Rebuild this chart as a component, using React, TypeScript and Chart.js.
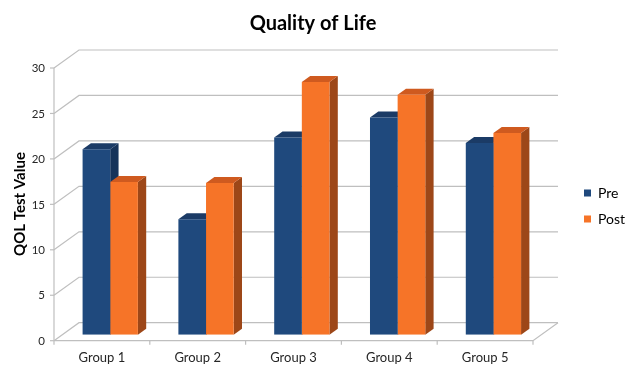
import React, { useEffect, useRef } from "react";
import { Chart, registerables } from "chart.js";

Chart.register(...registerables);

const categories = ["Group 1", "Group 2", "Group 3", "Group 4", "Group 5"];
const preValues = [20.4, 12.7, 21.7, 23.9, 21.1];
const postValues = [16.8, 16.7, 27.8, 26.4, 22.2];
const seriesNames = ["Pre", "Post"];
const yTicks = [0, 5, 10, 15, 20, 25, 30];
const chartTitle = "Quality of Life";
const yAxisTitle = "QOL Test Value";

const FONT = "Lato, 'Open Sans', sans-serif";
// bar depth offset (one third of the full floor depth)
const BDX = 8.33;
const BDY = -6;

const faceColors = [
  { front: "#1F497D", top: "#1B3B66", side: "#16335A" },
  { front: "#F67428", top: "#CF5A1F", side: "#9D4718" },
];

const threeD = {
  id: "threeD",
  beforeDatasetsDraw(chart: any) {
    const ctx = chart.ctx as CanvasRenderingContext2D;
    const ya = chart.scales.y;
    const xa = chart.scales.x;
    const ca = chart.chartArea;
    const fl = ca.left - BDX;
    const fr = ca.right - BDX;
    const bl = ca.left + 2 * BDX;
    const br = ca.right + 2 * BDX;
    const fy = (v: number) => ya.getPixelForValue(v) - BDY;
    const by = (v: number) => ya.getPixelForValue(v) + 2 * BDY;
    ctx.save();
    ctx.strokeStyle = "#BFBFBF";
    ctx.lineWidth = 1.2;
    // back wall gridlines + left wall diagonals
    yTicks.forEach((v) => {
      ctx.beginPath();
      ctx.moveTo(fl, fy(v));
      ctx.lineTo(bl, by(v));
      ctx.lineTo(br, by(v));
      ctx.stroke();
    });
    // floor
    ctx.beginPath();
    ctx.moveTo(fl, fy(0));
    ctx.lineTo(fr, fy(0));
    ctx.lineTo(br, by(0));
    ctx.stroke();
    // y axis line
    ctx.beginPath();
    ctx.moveTo(fl, fy(30));
    ctx.lineTo(fl, fy(0));
    ctx.stroke();
    // y ticks
    ctx.fillStyle = "#262626";
    ctx.font = `11.5px ${FONT}`;
    ctx.textAlign = "right";
    ctx.textBaseline = "middle";
    yTicks.forEach((v) => {
      ctx.beginPath();
      ctx.moveTo(fl - 4, fy(v));
      ctx.lineTo(fl, fy(v));
      ctx.stroke();
      ctx.fillText(String(v), fl - 9, fy(v) + 0.5);
    });
    // x ticks + labels
    const n = categories.length;
    const cw = (fr - fl) / n;
    for (let i = 0; i <= n; i++) {
      const x = fl + i * cw;
      ctx.beginPath();
      ctx.moveTo(x, fy(0));
      ctx.lineTo(x, fy(0) + 4);
      ctx.stroke();
    }
    ctx.font = `13px ${FONT}`;
    ctx.textAlign = "center";
    categories.forEach((c, i) => {
      ctx.fillText(c, xa.getPixelForValue(i) - BDX, fy(0) + 17);
    });
    // titles
    ctx.fillStyle = "#000000";
    ctx.font = `bold 20px ${FONT}`;
    ctx.fillText(chartTitle, 313, 24);
    ctx.save();
    ctx.translate(20, 204);
    ctx.rotate(-Math.PI / 2);
    ctx.font = `bold 15px ${FONT}`;
    ctx.fillText(yAxisTitle, 0, 0);
    ctx.restore();
    // legend
    ctx.font = `14px ${FONT}`;
    ctx.textAlign = "left";
    seriesNames.forEach((s, i) => {
      const yy = 193 + i * 26;
      ctx.fillStyle = faceColors[i].front;
      ctx.fillRect(584, yy - 3.5, 7, 7);
      ctx.fillStyle = "#000000";
      ctx.fillText(s, 598, yy + 0.5);
    });
    // bar top + side faces
    const metas = [chart.getDatasetMeta(0), chart.getDatasetMeta(1)];
    for (let i = 0; i < n; i++) {
      metas.forEach((m: any, d: number) => {
        const el = m.data[i];
        const l = el.x - el.width / 2;
        const r = el.x + el.width / 2;
        const t = el.y;
        const b = el.base;
        ctx.fillStyle = faceColors[d].side;
        ctx.beginPath();
        ctx.moveTo(r, t);
        ctx.lineTo(r + BDX, t + BDY);
        ctx.lineTo(r + BDX, b + BDY);
        ctx.lineTo(r, b);
        ctx.closePath();
        ctx.fill();
        ctx.fillStyle = faceColors[d].top;
        ctx.beginPath();
        ctx.moveTo(l, t);
        ctx.lineTo(r, t);
        ctx.lineTo(r + BDX, t + BDY);
        ctx.lineTo(l + BDX, t + BDY);
        ctx.closePath();
        ctx.fill();
      });
    }
    ctx.restore();
  },
};

export default function App() {
  const ref = useRef<HTMLCanvasElement | null>(null);
  useEffect(() => {
    if (!ref.current) return;
    const chart = new Chart(ref.current, {
      type: "bar",
      data: {
        labels: categories,
        datasets: [
          { label: seriesNames[0], data: preValues, backgroundColor: faceColors[0].front },
          { label: seriesNames[1], data: postValues, backgroundColor: faceColors[1].front },
        ],
      },
      options: {
        responsive: false,
        animation: false,
        devicePixelRatio: 1,
        layout: { padding: { left: 62.33, right: 87.67, top: 62, bottom: 31.3 } },
        datasets: { bar: { barPercentage: 1, categoryPercentage: 0.577, borderWidth: 0 } },
        scales: {
          x: { display: false },
          y: { display: false, min: 0, max: 30 },
        },
        plugins: { legend: { display: false }, title: { display: false }, tooltip: { enabled: false } },
      },
      plugins: [threeD],
    });
    return () => chart.destroy();
  }, []);
  return (
    <div style={{ position: "absolute", left: 0, top: 0, width: 629, height: 366, background: "#fff" }}>
      <canvas ref={ref} width={629} height={366} />
    </div>
  );
}
